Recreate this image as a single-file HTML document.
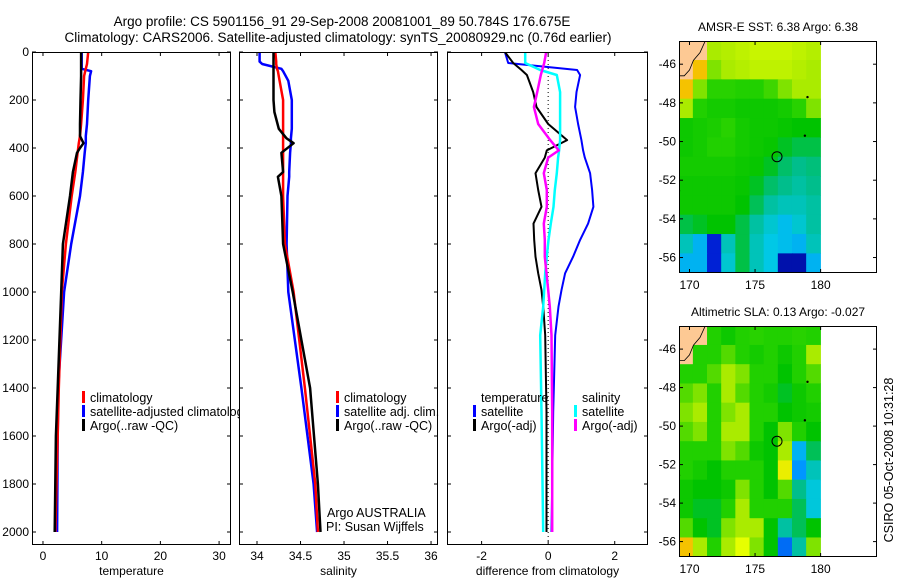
<!DOCTYPE html>
<html><head><meta charset="utf-8">
<style>
body{margin:0;background:#fff;}
svg{display:block;font-family:"Liberation Sans",sans-serif;}
</style></head>
<body>
<svg id="chart" width="900" height="580" viewBox="0 0 900 580">
<text x="342" y="26" font-size="13.5" text-anchor="middle">Argo profile: CS 5901156_91 29-Sep-2008 20081001_89 50.784S 176.675E</text>
<text x="338" y="42" font-size="13.5" text-anchor="middle">Climatology: CARS2006. Satellite-adjusted climatology: synTS_20080929.nc (0.76d earlier)</text>
<text transform="translate(893,460) rotate(-90)" font-size="12.5" text-anchor="middle">CSIRO 05-Oct-2008 10:31:28</text>
<g id="layer"></g>
</svg>
<script>
// ---- profile data ----
const tDepth = [0,50,70,80,100,200,300,350,380,400,420,500,600,800,1000,1400,1600,2000];
const tempClim = [7.7,7.5,7.3,7.2,7.0,6.8,6.5,6.3,6.1,6.0,5.9,5.5,4.9,3.9,3.2,2.7,2.5,2.1];
const tempSat = [6.6,6.6,6.6,8.2,8.0,7.7,7.5,7.3,7.3,7.2,7.1,6.8,6.3,4.8,3.6,2.6,2.5,2.4];
const tempArgo = [6.5,6.5,6.5,6.5,6.5,6.4,6.3,6.3,6.9,6.3,5.8,5.1,4.6,3.4,3.1,2.5,2.2,2.0];
const sDepth = [0,40,50,70,80,120,200,250,320,360,380,420,500,520,600,800,1000,1400,1800,2000];
const salClim = [34.21,34.22,34.22,34.23,34.24,34.26,34.30,34.30,34.30,34.30,34.30,34.30,34.30,34.30,34.30,34.32,34.42,34.55,34.67,34.70];
const salSat = [34.03,34.03,34.06,34.28,34.30,34.36,34.40,34.40,34.40,34.39,34.39,34.38,34.37,34.37,34.35,34.34,34.36,34.51,34.65,34.69];
const salArgo = [34.19,34.19,34.19,34.19,34.19,34.19,34.19,34.20,34.25,34.34,34.42,34.28,34.30,34.24,34.28,34.30,34.41,34.61,34.70,34.73];
const dDepth = [0,46,75,96,167,229,300,367,410,440,505,575,645,715,783,853,922,992,1061,1180,1500,2000];
const dTempSat = [-1.3,-1.2,0.87,0.96,0.85,0.81,0.9,1.0,1.05,1.1,1.26,1.32,1.36,1.2,0.96,0.75,0.51,0.4,0.31,0.21,0.15,0.1];
const dTempArgo = [-1.3,-1.05,-0.8,-0.64,-0.45,-0.35,0.0,0.57,-0.04,-0.1,-0.38,-0.3,-0.2,-0.44,-0.42,-0.38,-0.3,-0.2,-0.15,-0.09,-0.05,-0.05];
const dSalSat = [-0.69,-0.69,-0.24,0.26,0.36,0.36,0.36,0.36,0.33,0.3,0.26,0.2,0.16,0.08,0.01,-0.04,-0.09,-0.12,-0.15,-0.24,-0.2,-0.15];
const dSalArgo = [-0.06,-0.12,-0.18,-0.22,-0.33,-0.43,-0.3,0.06,0.32,0.0,-0.13,-0.04,-0.04,-0.13,-0.1,-0.1,-0.05,0.0,0.05,0.1,0.12,0.12];
const depthTicks = [0,200,400,600,800,1000,1200,1400,1600,1800,2000];
const tempTicks = [0,10,20,30];
const salTicks = [34,34.5,35,35.5,36];
const salTickLabels = ["34","34.5","35","35.5","36"];
const diffTicks = [-2,0,2];
// ---- map data (rows lat -45..-56, cols lon ~169.7..179.5); -1 = land ----
const mapLats = [-45,-46,-47,-48,-49,-50,-51,-52,-53,-54,-55,-56];
const mapLatTicks = [-46,-48,-50,-52,-54,-56];
const mapLonTicks = [170,175,180];
const sst = [
[-1,-1,0.62,0.63,0.64,0.65,0.65,0.65,0.64,0.63],
[-1,0.75,0.6,0.62,0.63,0.64,0.64,0.64,0.63,0.62],
[0.75,0.6,0.56,0.56,0.55,0.55,0.57,0.6,0.62,0.62],
[0.62,0.55,0.53,0.53,0.52,0.52,0.52,0.53,0.56,0.6],
[0.52,0.53,0.54,0.56,0.53,0.52,0.52,0.51,0.5,0.5],
[0.52,0.53,0.55,0.55,0.53,0.52,0.51,0.48,0.46,0.46],
[0.53,0.53,0.53,0.53,0.52,0.51,0.48,0.44,0.42,0.43],
[0.52,0.52,0.52,0.52,0.51,0.48,0.44,0.42,0.4,0.42],
[0.52,0.52,0.52,0.52,0.5,0.45,0.4,0.38,0.38,0.4],
[0.46,0.48,0.5,0.5,0.46,0.4,0.36,0.32,0.36,0.4],
[0.38,0.3,0.1,0.38,0.46,0.38,0.34,0.32,0.3,0.38],
[0.3,0.3,0.1,0.36,0.46,0.38,0.34,0.05,0.05,0.3]];
const sla = [
[-1,-1,0.55,0.52,0.55,0.56,0.55,0.55,0.56,0.55],
[-1,0.55,0.55,0.58,0.55,0.53,0.55,0.52,0.55,0.62],
[0.55,0.55,0.58,0.62,0.6,0.55,0.55,0.5,0.55,0.58],
[0.58,0.6,0.55,0.62,0.58,0.55,0.53,0.48,0.52,0.55],
[0.6,0.62,0.55,0.6,0.62,0.55,0.55,0.5,0.52,0.53],
[0.58,0.6,0.55,0.62,0.62,0.55,0.5,0.6,0.55,0.5],
[0.55,0.55,0.55,0.6,0.58,0.52,0.5,0.62,0.3,0.45],
[0.55,0.53,0.5,0.55,0.55,0.55,0.5,0.7,0.25,0.38],
[0.52,0.5,0.5,0.52,0.6,0.55,0.5,0.58,0.42,0.35],
[0.52,0.48,0.48,0.55,0.62,0.55,0.55,0.55,0.45,0.35],
[0.58,0.5,0.48,0.6,0.62,0.62,0.5,0.4,0.45,0.5],
[0.75,0.62,0.55,0.62,0.68,0.6,0.5,0.2,0.4,0.6]];
const floatPos = [176.675,-50.784];

const NS="http://www.w3.org/2000/svg";
const layer=document.getElementById('layer');
function mk(tag,attrs,parent){const e=document.createElementNS(NS,tag);for(const k in attrs)e.setAttribute(k,attrs[k]);(parent||layer).appendChild(e);return e;}
function txt(x,y,s,size,anchor,parent){const t=mk('text',{x:x,y:y,'font-size':size,'text-anchor':anchor||'start'},parent);t.textContent=s;return t;}

const Y0=52, YK=0.24, TOP=52, BOT=545;
const yD=d=>Y0+d*YK;
const panels=[
 {name:'temperature-panel',left:32,right:231,xmin:-1.87,xmax:32.03,label:'temperature',ticks:tempTicks,labels:tempTicks.map(String),showY:true},
 {name:'salinity-panel',left:239,right:438,xmin:33.793,xmax:36.08,label:'salinity',ticks:salTicks,labels:salTickLabels,showY:false},
 {name:'difference-panel',left:447,right:648,xmin:-3.04,xmax:3.0,label:'difference from climatology',ticks:diffTicks,labels:diffTicks.map(String),showY:false}
];
panels.forEach(p=>{
 p.x=v=>p.left+(v-p.xmin)/(p.xmax-p.xmin)*(p.right-p.left);
 const g=mk('g',{});
 
 
 p.g=g;
 const cid='clip-'+p.name;
 const cp=mk('clipPath',{id:cid},g);mk('rect',{x:p.left,y:TOP,width:p.right-p.left,height:BOT-TOP},cp);
 p.clip=mk('g',{'clip-path':'url(#'+cid+')'},g);
 mk('rect',{x:p.left+0.5,y:TOP+0.5,width:p.right-p.left-1,height:BOT-TOP-1,fill:'none',stroke:'#000','stroke-width':1},g);
 p.ticks.forEach((t,i)=>{const x=p.x(t);
  mk('line',{x1:x,y1:TOP,x2:x,y2:TOP+4,stroke:'#000'},g);
  mk('line',{x1:x,y1:BOT,x2:x,y2:BOT-4,stroke:'#000'},g);
  const tl=txt(x,BOT+15,p.labels[i],12,'middle',g);
  
  
 });
 depthTicks.forEach(d=>{const y=yD(d);
  mk('line',{x1:p.left,y1:y,x2:p.left+4,y2:y,stroke:'#000'},g);
  mk('line',{x1:p.right,y1:y,x2:p.right-4,y2:y,stroke:'#000'},g);
  if(p.showY){const tl=txt(p.left-3,y+4,String(d),12,'end',g);
   
   }
 });
 const xl=txt((p.left+p.right)/2,BOT+30,p.label,12,'middle',g);
 
 
});
function series(p,vals,depths,color,w,name){
 const pts=vals.map((v,i)=>p.x(v).toFixed(1)+','+yD(depths[i]).toFixed(1)).join(' ');
 const pl=mk('polyline',{points:pts,fill:'none',stroke:color,'stroke-width':w,'stroke-linejoin':'round'},p.clip);
 
 
}
const [P1,P2,P3]=panels;
series(P1,tempSat,tDepth,'#0000ff',2.5,'temp-satellite-line');
series(P1,tempClim,tDepth,'#ff0000',2.5,'temp-climatology-line');
series(P1,tempArgo,tDepth,'#000',2.5,'temp-argo-line');
series(P2,salSat,sDepth,'#0000ff',2.5,'sal-satellite-line');
series(P2,salClim,sDepth,'#ff0000',2.5,'sal-climatology-line');
series(P2,salArgo,sDepth,'#000',2.5,'sal-argo-line');
mk('line',{x1:P3.x(0),y1:TOP,x2:P3.x(0),y2:BOT,stroke:'#000','stroke-dasharray':'1,3'},P3.clip);
series(P3,dTempSat,dDepth,'#0000ff',2,'diff-temp-satellite-line');
series(P3,dTempArgo,dDepth,'#000',2,'diff-temp-argo-line');
series(P3,dSalSat,dDepth,'#00ffff',2.5,'diff-sal-satellite-line');
series(P3,dSalArgo,dDepth,'#ff00ff',2.5,'diff-sal-argo-line');

function legend(parent,x,y,color,label){
 const g=mk('g',{},parent);
 
 
 if(color)mk('rect',{x:x-8,y:y-11,width:3,height:12,fill:color},g);
 txt(x,y,label,12.5,'start',g);
}
const L1=mk('g',{});
const lc=mk('clipPath',{id:'lc1'},L1);mk('rect',{x:0,y:380,width:240,height:60},lc);
const L1c=mk('g',{'clip-path':'url(#lc1)'},L1);
legend(L1c,90,402,'#ff0000','climatology');
legend(L1c,90,416,'#0000ff','satellite-adjusted climatology');
legend(L1c,90,430,'#000','Argo(..raw -QC)');
const L2=mk('g',{});
legend(L2,344,402,'#ff0000','climatology');
legend(L2,344,416,'#0000ff','satellite adj. clim.');
legend(L2,344,430,'#000','Argo(..raw -QC)');
const L3=mk('g',{});
legend(L3,481,402,null,'temperature');
legend(L3,481,416,'#0000ff','satellite');
legend(L3,481,430,'#000','Argo(-adj)');
legend(L3,582,402,null,'salinity');
legend(L3,582,416,'#00ffff','satellite');
legend(L3,582,430,'#ff00ff','Argo(-adj)');
const cr=txt(327,517,'Argo AUSTRALIA',12.5);
const cr2=txt(326,531,'PI: Susan Wijffels',12.5);

// ---- maps ----
const cmapStops=[[0,[0,0,130]],[0.12,[0,40,230]],[0.25,[0,150,255]],[0.34,[0,200,230]],[0.42,[0,190,140]],[0.5,[0,195,0]],[0.56,[40,210,0]],[0.62,[170,235,0]],[0.68,[230,255,0]],[0.8,[255,150,0]],[1,[230,40,0]]];
function cmap(v){
 for(let i=1;i<cmapStops.length;i++){
  if(v<=cmapStops[i][0]){const [a,ca]=cmapStops[i-1],[b,cb]=cmapStops[i];const t=(v-a)/(b-a);
   return 'rgb('+ca.map((c,k)=>Math.round(c+(cb[k]-c)*t)).join(',')+')';}
 }
 return 'rgb(230,40,0)';
}
function drawMap(top,bottom,grid,title,name){
 const L=679,R=877,lonMin=169.2,lonMax=184.3,latTop=-44.8,latBot=-56.8;
 const xL=lo=>L+(lo-lonMin)/(lonMax-lonMin)*(R-L);
 const yL=la=>top+(la-latTop)/(latBot-latTop)*(bottom-top);
 const g=mk('g',{});
 
 
 const cid='clip-'+name;
 const cp=mk('clipPath',{id:cid},g);mk('rect',{x:L,y:top,width:R-L,height:bottom-top},cp);
 const cg=mk('g',{'clip-path':'url(#'+cid+')'},g);
 const nc=grid[0].length, cw=(180-lonMin)/nc;
 grid.forEach((row,ri)=>{
  const la=mapLats[ri];
  row.forEach((v,ci)=>{
   const lo0=lonMin+ci*cw;
   const c=mk('rect',{x:xL(lo0)-0.3,y:yL(la+0.2)-0.3,width:xL(lo0+cw)-xL(lo0)+0.6,height:yL(la-0.8)-yL(la+0.2)+0.6,fill:v<0?'#fdc994':cmap(v)},cg);
   
   
  });
 });
 const land=mk('path',{d:`M${L},${yL(-44.8)} L${xL(171.2)},${yL(-44.8)} L${xL(170.8)},${yL(-45.4)} L${xL(170.3)},${yL(-45.8)} L${xL(170.0)},${yL(-46.3)} L${xL(169.6)},${yL(-46.6)} L${L},${yL(-46.6)} Z`,fill:'#fdc994',stroke:'#000','stroke-width':0.8},cg);
 
 
 [[178.8,-49.7],[169.2,-52.55],[179,-47.7]].forEach(p=>mk('circle',{cx:xL(p[0]),cy:yL(p[1]),r:1.2,fill:'#000'},cg));
 const fm=mk('circle',{cx:xL(floatPos[0]),cy:yL(floatPos[1]),r:5,fill:'none',stroke:'#000','stroke-width':1},cg);
 
 
 mk('rect',{x:L+0.5,y:top+0.5,width:R-L-1,height:bottom-top-1,fill:'none',stroke:'#000'},g);
 mapLatTicks.forEach(la=>{const y=yL(la);
  mk('line',{x1:L,y1:y,x2:L+4,y2:y,stroke:'#000'},g);
  mk('line',{x1:R,y1:y,x2:R-4,y2:y,stroke:'#000'},g);
  txt(L-3,y+4,String(la),12,'end',g);
 });
 mapLonTicks.forEach(lo=>{const x=xL(lo);
  mk('line',{x1:x,y1:top,x2:x,y2:top+4,stroke:'#000'},g);
  mk('line',{x1:x,y1:bottom,x2:x,y2:bottom-4,stroke:'#000'},g);
  txt(x,bottom+16,String(lo),12,'middle',g);
 });
 const t=txt((L+R)/2,top-10,title,12,'middle',g);
 
 
}
drawMap(41,273,sst,'AMSR-E SST: 6.38 Argo: 6.38','sst-map');
drawMap(326,557,sla,'Altimetric SLA: 0.13 Argo: -0.027','sla-map');
</script>
</body></html>
